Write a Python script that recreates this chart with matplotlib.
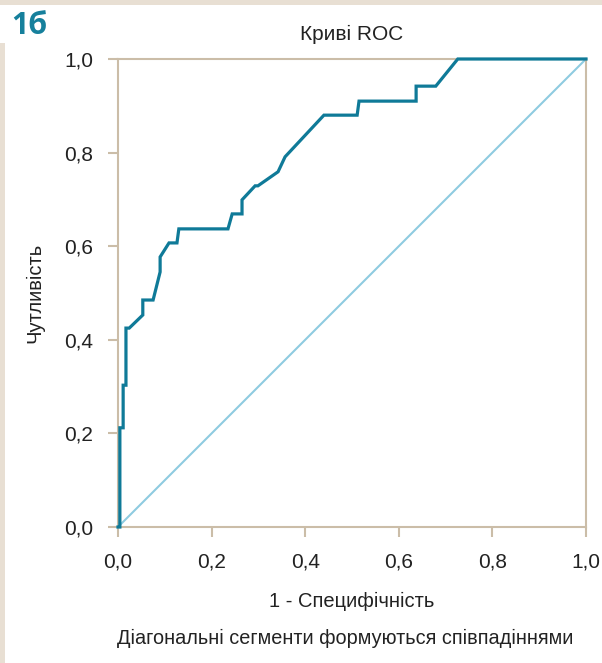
import matplotlib
matplotlib.use("Agg")
import matplotlib.pyplot as plt
from matplotlib.ticker import FuncFormatter
from matplotlib.patches import Rectangle

# Data
fpr = [0.0, 0.004, 0.004, 0.011, 0.011, 0.017, 0.017, 0.024, 0.053, 0.053, 0.075,
       0.090, 0.090, 0.109, 0.126, 0.130, 0.235, 0.244, 0.265, 0.265, 0.293, 0.299,
       0.342, 0.357, 0.440, 0.511, 0.515, 0.637, 0.637, 0.679, 0.726, 1.0]
tpr = [0.0, 0.0, 0.212, 0.212, 0.303, 0.303, 0.425, 0.425, 0.453, 0.485, 0.485,
       0.545, 0.577, 0.607, 0.607, 0.637, 0.637, 0.669, 0.669, 0.699, 0.729, 0.729,
       0.759, 0.791, 0.880, 0.880, 0.910, 0.910, 0.942, 0.942, 1.0, 1.0]
diag_x = [0.0, 1.0]
diag_y = [0.0, 1.0]
ticks = [0.0, 0.2, 0.4, 0.6, 0.8, 1.0]

title = "Криві ROC"
xlabel = "1 - Специфічність"
ylabel = "Чутливість"
footnote = "Діагональні сегменти формуються співпадіннями"
panel = "1б"

plt.rcParams['font.family'] = ['Liberation Sans', 'DejaVu Sans']

W, H = 602, 663
fig = plt.figure(figsize=(W/100, H/100), dpi=100)
fig.patch.set_facecolor('white')

beige = '#e8dfd3'
# decorative border strips
fig.add_artist(Rectangle((0, 1 - 5/H), 1, 5/H, transform=fig.transFigure, color=beige, lw=0))
fig.add_artist(Rectangle((0, 0), 5/W, 1 - 43/H, transform=fig.transFigure, color=beige, lw=0))

ax = fig.add_axes([118/W, 1 - 527/H, 468/W, 468/H])
spine_c = '#cbbda8'
txt_c = '#222222'

ax.plot(diag_x, diag_y, color='#8fcbe0', lw=1.5, zorder=2, clip_on=False)
ax.plot(fpr, tpr, color='#0f7a98', lw=2.3, zorder=3, clip_on=False, solid_joinstyle='miter')

ax.set_xlim(0, 1)
ax.set_ylim(0, 1)
ax.set_xticks(ticks)
ax.set_yticks(ticks)
fmt = FuncFormatter(lambda v, p: f"{v:.1f}".replace('.', ','))
ax.xaxis.set_major_formatter(fmt)
ax.yaxis.set_major_formatter(fmt)
for s in ax.spines.values():
    s.set_color(spine_c)
    s.set_linewidth(1.5)
ax.tick_params(axis='both', direction='out', length=7, width=1.5, color=spine_c,
               labelsize=15, labelcolor=txt_c)
ax.tick_params(axis='y', pad=11)
ax.tick_params(axis='x', pad=11)

ax.set_title(title, fontsize=15, color=txt_c, pad=14)
ax.set_xlabel(xlabel, fontsize=14.5, color=txt_c, labelpad=15)
ax.set_ylabel(ylabel, fontsize=14.5, color=txt_c, labelpad=14)

fig.text(345/W, 1 - 638/H, footnote, fontsize=14.3, color=txt_c, ha='center', va='center')
fig.text(11/W, 1 - 26/H, panel, fontsize=22, fontweight='bold', color='#16809c',
         ha='left', va='center', family=['Open Sans', 'DejaVu Sans'])

fig.savefig('out.png', dpi=100, facecolor='white')
